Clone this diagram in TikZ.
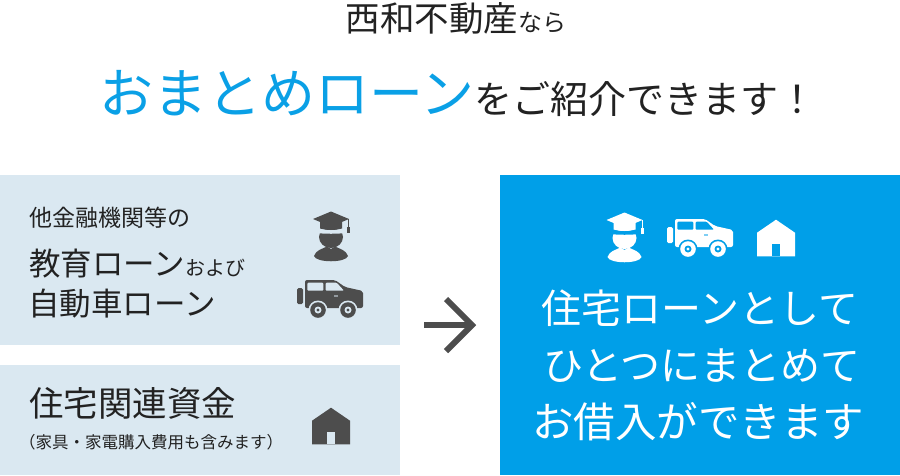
\documentclass[tikz,border=0pt]{standalone}
\usepackage{fontspec}
\usepackage{tikz}
\usetikzlibrary{calc,positioning}
\setmainfont{Noto Sans CJK JP}
\definecolor{panelblue}{HTML}{DAE8F1}
\definecolor{skyblue}{HTML}{009FE8}
\definecolor{titleblue}{HTML}{0AA0E6}
\definecolor{inkgray}{HTML}{4D4D4D}
\definecolor{inkdark}{HTML}{222222}
\newcommand{\pxfont}[1]{\fontsize{#1}{#1}\selectfont}
\tikzset{
	panel/.style={fill=#1,inner sep=0pt,anchor=north west},
	label/.style={inner sep=0pt,anchor=base west,text=inkdark},
	whitelabel/.style={inner sep=0pt,anchor=base,text=white},
	pics/hat/.style 2 args={code={
		% head and shoulders
		\fill[#1] (0,0) ellipse [x radius=12,y radius=11];
		\fill[#1] (-17,19) .. controls (-15,13) and (-9,12) .. (-4,9.5) -- (0,12) -- (4,9.5) .. controls (9,12) and (15,13) .. (17,19) .. controls (15,26) and (-15,26) .. (-17,19) -- cycle;
		% cap
		\fill[#2] (-15,-12) .. controls (-5,-5) and (5,-5) .. (15,-12) -- (15,-4) .. controls (5,-3) and (-5,-3) .. (-15,-4) -- cycle;
		\fill[#1] (-11,-15) -- (-11,-8.5) .. controls (-4,-6.5) and (4,-6.5) .. (11,-8.5) -- (11,-15) -- cycle;
		\fill[#1] (0,-25.5) -- (18,-18) -- (0,-10.5) -- (-18,-18) -- cycle;
		\draw[#1,line width=1pt] (17.7,-18) -- (17.7,-9);
		\fill[#1] (16.2,-10) rectangle (19.2,-4);
	}},
	pics/car/.style 2 args={code={
		\fill[#1,rounded corners=1.5pt] (-33,-10) rectangle (-27,6);
		\fill[#1,rounded corners=2pt] (-25,10) -- (-25,-18) -- (5,-18) -- (15,-11) -- (33,-7) -- (33,10) -- cycle;
		% windows and handle
		\fill[#2,rounded corners=1pt] (-22.7,-15.3) rectangle (-6.7,-7.3);
		\fill[#2,rounded corners=1pt] (-4.3,-15.3) -- (6.7,-15.3) -- (14,-7.3) -- (-4.3,-7.3) -- cycle;
		\fill[#2,opacity=.5] (4,-3) rectangle (8,-1.3);
		% wheels
		\foreach \wx in {-12,18} {
			\fill[#2] (\wx,12) circle (9.5);
			\fill[#1] (\wx,12) circle (7.8);
			\fill[#2] (\wx,12) circle (3.5);
			\fill[#1] (\wx,12) circle (1.6);
		}
	}},
	pics/house/.style 2 args={code={
		\fill[#1] (0,-18.3) -- (19,-5.3) -- (19,18.3) -- (-19,18.3) -- (-19,-5.3) -- cycle;
		\fill[#2] (-4.2,5.7) rectangle (4.2,18.3);
	}},
}

\begin{document}
\begin{tikzpicture}[x=1pt,y=-1pt]
	\useasboundingbox (0,0) rectangle (900,475);

	% panels
	\node[panel=panelblue,minimum width=400pt,minimum height=170pt] (eduPanel) at (0,175) {};
	\node[panel=panelblue,minimum width=400pt,minimum height=110pt] (homePanel) at (0,365) {};
	\node[panel=skyblue,minimum width=400pt,minimum height=300pt] (mergedPanel) at (500,175) {};

	% heading
	\node[label,anchor=base] (titleTop) at (456,31) {\pxfont{34.5}西和不動産\pxfont{24}なら};
	\node[label,anchor=base] (titleMain) at (458,113) {\textcolor{titleblue}{\pxfont{54}おまとめローン}\pxfont{38}をご紹介できます！};

	% left texts
	\node[label] (eduOther) at (29,226) {\pxfont{23}他金融機関等の};
	\node[label] (eduLoan) at (29,275) {\pxfont{31.5}教育ローン\pxfont{20}および};
	\node[label] (carLoan) at (28,315) {\pxfont{31.5}自動車ローン};
	\node[label] (homeFunds) at (29,416) {\pxfont{34.5}住宅関連資金};
	\node[label] (homeNote) at (19,448) {\pxfont{16.5}（家具・家電購入費用も含みます）};

	% right texts
	\node[whitelabel] (mergedA) at (700,323) {\pxfont{40}住宅ローンとして};
	\node[whitelabel] (mergedB) at (702,380) {\pxfont{40}ひとつにまとめて};
	\node[whitelabel] (mergedC) at (698,437) {\pxfont{41.5}お借入ができます};

	% icons
	\pic at (331,237) {hat={inkgray}{panelblue}};
	\pic at (330,298) {car={inkgray}{panelblue}};
	\pic at (331,426) {house={inkgray}{panelblue}};
	\pic at (624.5,238) {hat={white}{skyblue}};
	\pic at (700,237) {car={white}{skyblue}};
	\pic at (776,238) {house={white}{skyblue}};

	% arrow
	\coordinate (arrowTail) at (424,325);
	\coordinate (arrowTip) at (472,325);
	\coordinate (arrowUp) at (446,299);
	\coordinate (arrowDown) at (446,351);
	\draw[inkgray,line width=6pt] (arrowTail) -- (arrowTip);
	\draw[inkgray,line width=6pt,miter limit=4] (arrowUp) -- (arrowTip) -- (arrowDown);
\end{tikzpicture}
\end{document}
